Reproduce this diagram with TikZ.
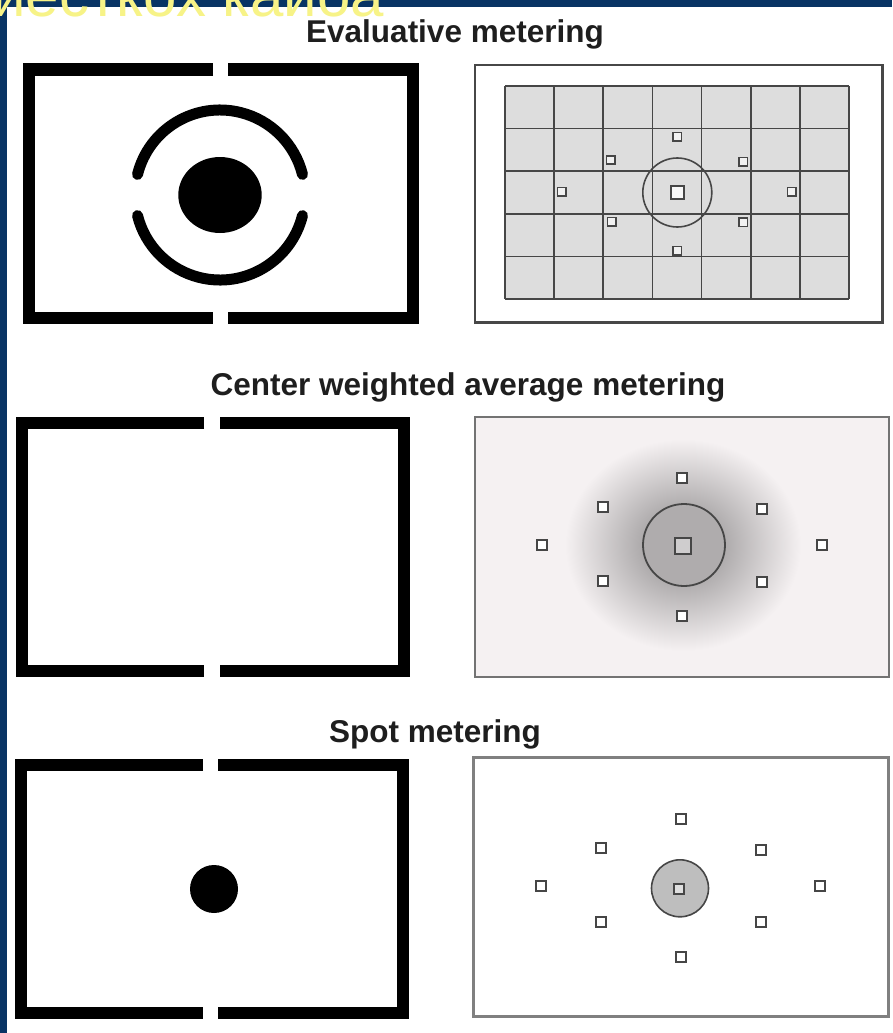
\documentclass[tikz,border=0pt]{standalone}
\usepackage{fontspec}
\setmainfont{Liberation Sans}
\definecolor{slideblue}{RGB}{8,52,100}
\definecolor{ytext}{RGB}{247,243,135}
\definecolor{titletext}{RGB}{30,30,30}
\definecolor{gridfill}{RGB}{221,221,221}
\definecolor{gridline}{RGB}{70,70,70}
\definecolor{panelline}{RGB}{85,85,85}
\definecolor{cwbg}{RGB}{245,241,242}
\definecolor{blobc}{RGB}{175,172,173}
\definecolor{spotfill}{RGB}{190,190,190}
\pgfdeclareradialshading{cwblob}{\pgfpoint{0bp}{0bp}}{color(0bp)=(blobc); color(9bp)=(blobc); color(25bp)=(cwbg); color(50bp)=(cwbg)}
\tikzset{
  vframe/.style={line width=12pt, black, line cap=butt, line join=miter},
  titlenode/.style={anchor=base, text=titletext, font=\bfseries\fontsize{31.5}{31.5}\selectfont, inner sep=0pt},
  panelbox/.style={draw=panelline, line width=2pt},
  afpt/.style={draw=gridline, fill=white, line width=2pt, inner sep=0pt, minimum size=#1},
  afpt/.default=10pt
}
\begin{document}
\begin{tikzpicture}[x=1pt,y=-1pt]
\useasboundingbox (0,0) rectangle (892,1033);
\fill[white] (0,0) rectangle (892,1033);
% slide frame
\fill[slideblue] (0,0) rectangle (892,7);
\fill[slideblue] (0,0) rectangle (7,1033);
\node[anchor=base west, text=ytext, font=\fontsize{60}{60}\selectfont, inner sep=0pt] (slidetitle) at (-8,17) {иесткох каиоа};

% ---------- titles ----------
\node[titlenode] (t1) at (455,43) {Evaluative metering};
\node[titlenode] (t2) at (468,395) {Center weighted average metering};
\node[titlenode] (t3) at (435,742) {Spot metering};

% ---------- left frames ----------
% frame 1
\draw[vframe] (213,69.5) -- (29,69.5) -- (29,317.5) -- (213,317.5);
\draw[vframe] (228,69.5) -- (412.5,69.5) -- (412.5,317.5) -- (228,317.5);
\fill (220,195) ellipse [x radius=41.7, y radius=38];
\draw[line width=11pt, line cap=round] ([shift={(220,195)}]194:85) arc[start angle=194, end angle=346, radius=85];
\draw[line width=11pt, line cap=round] ([shift={(220,195)}]14:85) arc[start angle=14, end angle=166, radius=85];
% frame 2
\draw[vframe] (204,423) -- (22,423) -- (22,671) -- (204,671);
\draw[vframe] (220,423) -- (404,423) -- (404,671) -- (220,671);
% frame 3
\draw[vframe] (203,764.5) -- (20.5,764.5) -- (20.5,1012.5) -- (203,1012.5);
\draw[vframe] (218,764.5) -- (402.5,764.5) -- (402.5,1012.5) -- (218,1012.5);
\fill (214,889) circle (24);

% ---------- panel 1: evaluative ----------
\draw[panelbox, line width=2.2pt, draw=black!72] (475,65) rectangle (882.5,322.5);
\fill[gridfill] (505,86) rectangle (849,299);
\foreach \i in {0,...,7} {
  \draw[gridline, line width=1.6pt] ({505+\i*49.143},86) -- ({505+\i*49.143},299);
}
\foreach \j in {0,...,5} {
  \draw[gridline, line width=1.6pt] (505,{86+\j*42.6}) -- (849,{86+\j*42.6});
}
\draw[gridline, line width=1.6pt] (677.3,192.5) circle (34.5);
\node[afpt=8.5pt, fill=gridfill!40, line width=1.7pt] (e1) at (677.3,136.7) {};
\node[afpt=8.5pt, fill=gridfill!40, line width=1.7pt] (e2) at (610.7,160) {};
\node[afpt=8.5pt, fill=gridfill!40, line width=1.7pt] (e3) at (743.3,161.7) {};
\node[afpt=8.5pt, fill=gridfill!40, line width=1.7pt] (e4) at (561.7,191.7) {};
\node[afpt=13pt, fill=gridfill!20, line width=2pt] (e5) at (677.3,192.7) {};
\node[afpt=8.5pt, fill=gridfill!40, line width=1.7pt] (e6) at (791.7,191.7) {};
\node[afpt=8.5pt, fill=gridfill!40, line width=1.7pt] (e7) at (611.7,221.7) {};
\node[afpt=8.5pt, fill=gridfill!40, line width=1.7pt] (e8) at (743.3,222.3) {};
\node[afpt=8.5pt, fill=gridfill!40, line width=1.7pt] (e9) at (677.3,250.7) {};

% ---------- panel 2: center weighted ----------
\fill[cwbg] (474.5,417) rectangle (888.5,676.5);
\begin{scope}
  \clip (474.5,417) rectangle (888.5,676.5);
  \shade[shading=cwblob] (683,545) ellipse [x radius=118, y radius=106];
\end{scope}
\draw[panelbox, draw=black!55] (474.5,417) rectangle (888.5,676.5);
\draw[gridline, line width=1.8pt] (684,545) circle (41);
\node[afpt] (c1) at (682.3,478.3) {};
\node[afpt] (c2) at (602.7,507.3) {};
\node[afpt] (c3) at (762.3,509.3) {};
\node[afpt] (c4) at (541.7,545) {};
\node[afpt=16pt, fill=blobc!60!white, line width=2.2pt] (c5) at (683,546) {};
\node[afpt] (c6) at (821.7,545) {};
\node[afpt] (c7) at (602.7,581) {};
\node[afpt] (c8) at (762.3,581.7) {};
\node[afpt] (c9) at (682.3,616) {};

% ---------- panel 3: spot ----------
\draw[panelbox, line width=2.5pt, draw=black!50] (473.5,757.5) rectangle (888.5,1016.5);
\filldraw[fill=spotfill, draw=gridline, line width=1.6pt] (680,888.3) circle (28.5);
\node[afpt] (s1) at (680.7,819.3) {};
\node[afpt] (s2) at (601,848.3) {};
\node[afpt] (s3) at (761,850) {};
\node[afpt] (s4) at (540.7,886) {};
\node[afpt, fill=spotfill!50!white] (s5) at (679.3,889.3) {};
\node[afpt] (s6) at (820,886) {};
\node[afpt] (s7) at (601,921.7) {};
\node[afpt] (s8) at (761,922.3) {};
\node[afpt] (s9) at (680.7,957.3) {};
\end{tikzpicture}
\end{document}
